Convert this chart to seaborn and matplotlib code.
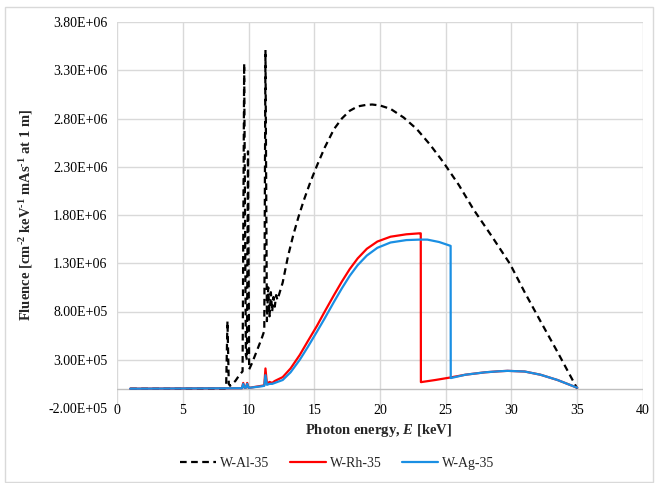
import pandas as pd
import matplotlib
matplotlib.use("Agg")
import matplotlib.pyplot as plt
import matplotlib.patches as mpatches
import seaborn as sns
from matplotlib.ticker import FuncFormatter

# spectra (energy in keV, fluence in units of 1e6)
energy_al = [1, 8.2, 8.3, 8.4, 8.5, 8.6, 9.0, 9.3, 9.55, 9.67, 9.8, 9.88, 9.96, 10.05,
             10.25, 10.6, 11.0, 11.2, 11.29, 11.4, 11.5, 11.6, 11.7, 11.8, 11.9, 12.0,
             12.1, 12.2, 12.6, 13.0, 13.4, 13.8, 14.2, 14.7, 15.2, 15.8, 16.5, 17.1, 17.7,
             18.3, 18.9, 19.4, 20.0, 20.8, 21.8, 22.8, 23.8, 24.8, 26.0, 27.1, 28.5, 29.9,
             31.0, 32.2, 33.5, 35.0]
fluence_al = [0, 0.0, 0.02, 0.70, 0.05, 0.03, 0.08, 0.14, 0.18, 3.37, 0.35, 0.30, 2.46, 0.20,
              0.26, 0.38, 0.52, 0.60, 3.51, 0.70, 1.05, 0.75, 1.00, 0.80, 0.95, 0.85,
              0.97, 0.92, 1.10, 1.37, 1.59, 1.78, 1.95, 2.14, 2.31, 2.50, 2.69, 2.80, 2.88,
              2.925, 2.94, 2.945, 2.935, 2.90, 2.81, 2.69, 2.53, 2.35, 2.11, 1.86, 1.58, 1.29,
              1.00, 0.70, 0.38, 0.0]

energy_rh = [1, 9.5, 9.6, 9.7, 9.8, 9.9, 10.0, 10.1, 11.0, 11.2, 11.29, 11.4, 11.6, 11.8,
             12.0, 12.6, 13.2, 13.9, 14.5, 15.2, 15.8, 16.5, 17.1, 17.7, 18.3, 19.0, 19.8,
             20.8, 22.0, 23.0, 23.1, 23.11, 24.2, 25.3, 26.5, 28.0, 29.0, 29.7, 31.0,
             32.2, 33.5, 35.0]
fluence_rh = [0, 0.005, 0.06, 0.01, 0.01, 0.06, 0.01, 0.01, 0.03, 0.035, 0.21, 0.05, 0.07, 0.06,
              0.08, 0.12, 0.21, 0.35, 0.49, 0.65, 0.80, 0.97, 1.11, 1.24, 1.35, 1.45, 1.525,
              1.575, 1.60, 1.61, 1.61, 0.068, 0.09, 0.115, 0.145, 0.17, 0.18, 0.185, 0.178,
              0.145, 0.09, 0.01]

energy_ag = [1, 9.5, 9.6, 9.7, 9.8, 9.9, 10.0, 10.1, 11.0, 11.2, 11.29, 11.4, 11.6, 11.8,
             12.0, 12.6, 13.2, 13.9, 14.5, 15.2, 15.8, 16.5, 17.1, 17.7, 18.3, 19.0, 19.8,
             20.8, 22.0, 23.0, 23.6, 24.5, 25.37, 25.38, 26.5, 28.0, 29.0, 29.7, 31.0,
             32.2, 33.5, 35.0]
fluence_ag = [0, 0.005, 0.05, 0.01, 0.01, 0.05, 0.01, 0.01, 0.025, 0.03, 0.14, 0.04, 0.05, 0.05,
              0.06, 0.09, 0.17, 0.30, 0.43, 0.59, 0.73, 0.90, 1.04, 1.17, 1.28, 1.38, 1.46,
              1.515, 1.54, 1.545, 1.545, 1.52, 1.48, 0.11, 0.145, 0.17, 0.18, 0.185, 0.178,
              0.145, 0.09, 0.01]

x_ticks = [0, 5, 10, 15, 20, 25, 30, 35, 40]
y_ticks = [-2e5, 3e5, 8e5, 1.3e6, 1.8e6, 2.3e6, 2.8e6, 3.3e6, 3.8e6]

sns.set_style("white")
plt.rcParams['font.family'] = ['Liberation Serif', 'DejaVu Serif']
plt.rcParams['mathtext.fontset'] = 'custom'
plt.rcParams['mathtext.rm'] = 'Liberation Serif:bold'
plt.rcParams['mathtext.it'] = 'Liberation Serif:italic:bold'
plt.rcParams['mathtext.bf'] = 'Liberation Serif:bold'
plt.rcParams['mathtext.default'] = 'rm'

fig = plt.figure(figsize=(6.57, 4.83), dpi=100)
ax = fig.add_axes([117 / 657, 1 - 408 / 483, 526 / 657, 386 / 483])

df_al = pd.DataFrame({"E": energy_al, "F": [v * 1e6 for v in fluence_al]})
df_rh = pd.DataFrame({"E": energy_rh, "F": [v * 1e6 for v in fluence_rh]})
df_ag = pd.DataFrame({"E": energy_ag, "F": [v * 1e6 for v in fluence_ag]})

sns.lineplot(data=df_al, x="E", y="F", ax=ax, color="black", lw=1.6,
             linestyle=(0, (3, 2)), estimator=None, sort=False, label="W-Al-35", zorder=3)
sns.lineplot(data=df_rh, x="E", y="F", ax=ax, color="#FF0000", lw=1.6,
             estimator=None, sort=False, label="W-Rh-35", zorder=4)
sns.lineplot(data=df_ag, x="E", y="F", ax=ax, color="#1A8FE3", lw=1.6,
             estimator=None, sort=False, label="W-Ag-35", zorder=5)

ax.set_xlim(0, 40)
ax.set_ylim(-2e5, 3.8e6)
ax.set_xticks(x_ticks)
ax.set_yticks(y_ticks)
ax.yaxis.set_major_formatter(FuncFormatter(lambda v, p: f"{v:.2E}"))
ax.grid(True, color="#D9D9D9", lw=1)
ax.get_ygridlines()[0].set_visible(False)
ax.axhline(0, color="#BFBFBF", lw=1, zorder=1.5)
for s in ax.spines.values():
    s.set_visible(False)
ax.tick_params(axis="both", length=0, labelsize=10, colors="black")
ax.tick_params(axis="x", pad=-3)
ax.tick_params(axis="y", pad=7)

ax.set_xlabel(r"Photon energy, $\mathit{E}$ [keV]", fontsize=10.5, fontweight="bold")
ax.xaxis.set_label_coords(0.497, -0.037)
ax.set_ylabel(r"Fluence [cm$^{\text{-2}}$ keV$^{\text{-1}}$ mAs$^{\text{-1}}$ at 1 m]",
              fontsize=10.5, fontweight="bold")
ax.yaxis.set_label_coords(-0.155, 0.5)

handles, labels = ax.get_legend_handles_labels()
ax.get_legend().remove()
fig.legend(handles, labels, loc="center", bbox_to_anchor=(0.513, 0.041), ncol=3,
           frameon=False, fontsize=10, handlelength=2.6, columnspacing=1.45, handletextpad=0.3)

fig.patches.append(mpatches.Rectangle((5 / 657, 1 / 483), 648 / 657, 475 / 483,
                                      transform=fig.transFigure, fill=False,
                                      edgecolor="#D9D9D9", lw=1))

fig.savefig("out.png", dpi=100)
